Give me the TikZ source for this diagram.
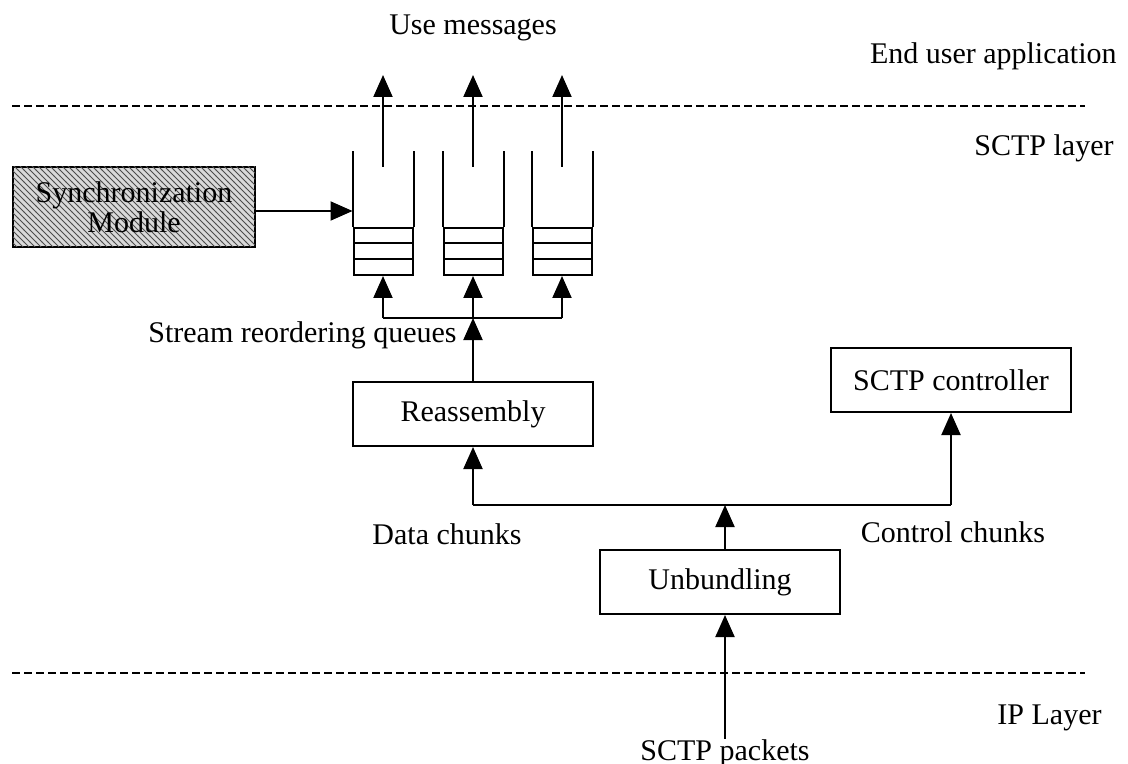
\documentclass[tikz,border=0pt]{standalone}
\usepackage{fontspec}
\setmainfont{Liberation Serif}
\usetikzlibrary{arrows.meta,patterns}

\tikzset{
  txt/.style={inner sep=0pt, font=\fontsize{15}{17}\selectfont},
  block/.style={draw, line width=1pt, minimum width=120pt, minimum height=32pt,
    inner sep=0pt, font=\fontsize{15}{17}\selectfont},
  slots/.style={draw, line width=1pt, minimum width=29.5pt, minimum height=23.5pt, inner sep=0pt},
  syncbox/.style={draw, line width=1.4pt, fill=gray!30, minimum width=121pt, minimum height=40pt,
    inner sep=0pt, align=center, font=\fontsize{15}{15}\selectfont,
    postaction={pattern=north west lines, pattern color=black!70}},
  flow/.style={-{Triangle[length=11pt,width=9.5pt]}, line width=1pt},
  layer/.style={line width=1pt, dash pattern=on 4pt off 2pt}
}

\begin{document}
\begin{tikzpicture}[x=0.5pt,y=-0.5pt]
        \useasboundingbox (0,0) rectangle (1128,764);
        % layer borders
        \draw[layer] (12,106) -- (1085,106);
        \draw[layer] (12,673) -- (1085,673);
        \node[txt] (use) at (473,28) {Use messages};
        \node[txt, anchor=east] (app) at (1117,56) {End user application};
        \node[txt, anchor=base east] (sctplayer) at (1114,156) {SCTP layer};
        \node[txt, anchor=east] (iplayer) at (1102,718) {IP Layer};
        % reordering queues
        \foreach \x [count=\i] in {383,473,562}{
          \node[slots] (q\i) at (\x,251.5) {};
          \draw[line width=1pt] (q\i.north west) -- +(0,-76);
          \draw[line width=1pt] (q\i.north east) -- +(0,-76);
          \draw[line width=1pt] (\x-29.5,243) -- (\x+29.5,243);
          \draw[line width=1pt] (\x-29.5,259) -- (\x+29.5,259);
          \coordinate (out\i) at (\x,167);
          \coordinate (msg\i) at (\x,75);
          \draw[flow] (out\i) -- (msg\i);
          \coordinate (in\i) at (\x,318);
          \draw[flow] (in\i) -- (q\i.south);
        }
        \draw[line width=1pt] (in1) -- (in3);
        \node[txt, anchor=base east] (srq) at (457,343) {Stream reordering queues};
        % sync module
        \node[syncbox] (sync) at (134,207) {Synchronization\\Module};
        \draw[flow] ([yshift=-2pt]sync.east) -- ([yshift=-2pt]sync.east -| q1.west);
        % blocks
        \node[block] (reasm) at (473,414) {Reassembly};
        \draw[flow] (reasm.north) -- (in2);
        \node[block] (ctrl) at (951,380) {SCTP controller};
        \node[block] (unb) at (720,582) {Unbundling};
        \coordinate (split) at (725,505);
        \draw[line width=1pt] (reasm.south |- split) -- (ctrl.south |- split);
        \draw[flow] (reasm.south |- split) -- (reasm.south);
        \draw[flow] (ctrl.south |- split) -- (ctrl.south);
        \draw[flow] (unb.north -| split) -- (split);
        \node[txt] (data) at (447,534) {Data chunks};
        \node[txt] (control) at (953,532) {Control chunks};
        \node[txt, anchor=base] (pkts) at (725,760) {SCTP packets};
        \draw[flow] (pkts.north) -- (pkts.north |- unb.south);
        % \draw (0,0) rectangle (1128,764);
      \end{tikzpicture}
\end{document}
